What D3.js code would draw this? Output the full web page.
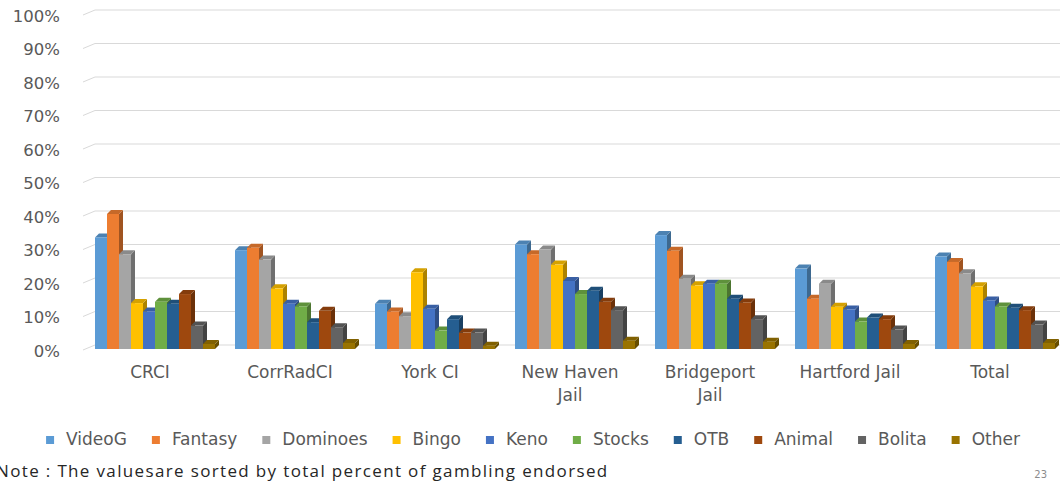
<!DOCTYPE html>
<meta charset="utf-8">
<head>
  <title>Gambling endorsed by facility</title>
</head>

<style>
body {
  margin: 0;
  background: #fff;
  font-family: "DejaVu Sans", sans-serif;
}
</style>

<body>
  <div id="content"></div>

  <script src="https://cdnjs.cloudflare.com/ajax/libs/d3/7.8.5/d3.min.js"></script>

  <script>
// DATA
var categories = ['CRCI', 'CorrRadCI', 'York CI', 'New Haven Jail', 'Bridgeport Jail', 'Hartford Jail', 'Total'];
var seriesNames = ['VideoG', 'Fantasy', 'Dominoes', 'Bingo', 'Keno', 'Stocks', 'OTB', 'Animal', 'Bolita', 'Other'];
var seriesColors = ['#5B9BD5', '#ED7D31', '#A5A5A5', '#FFC000', '#4472C4', '#70AD47', '#255E91', '#9E480E', '#636363', '#997300'];

var videoG   = [33.3, 29.5, 13.5, 31.2, 34.0, 24.0, 27.6];
var fantasy  = [40.3, 30.2, 11.2, 28.3, 29.3, 15.0, 26.0];
var dominoes = [28.3, 26.7,  9.8, 29.7, 21.0, 19.5, 22.6];
var bingo    = [13.7, 18.1, 22.9, 25.2, 19.0, 12.6, 18.7];
var keno     = [11.2, 13.5, 12.0, 20.3, 19.5, 11.8, 14.5];
var stocks   = [14.1, 12.7,  5.5, 16.4, 19.5,  8.2, 12.7];
var otb      = [13.5,  8.0,  8.9, 17.4, 15.0,  9.4, 12.3];
var animal   = [16.4, 11.4,  4.9, 14.1, 13.9,  8.9, 11.6];
var bolita   = [ 7.0,  6.5,  4.9, 11.6,  8.9,  5.8,  7.3];
var other    = [ 1.5,  1.8,  1.0,  2.5,  2.2,  1.5,  1.8];

var tickValues = [0, 10, 20, 30, 40, 50, 60, 70, 80, 90, 100];
var noteText = 'Note : The valuesare sorted by total percent of gambling endorsed';
var pageNumber = '23';

var seriesValues = [videoG, fantasy, dominoes, bingo, keno, stocks, otb, animal, bolita, other];

// SETUP
var width = 1063, height = 485;
var depthX = 4, depthY = 4;
var textColor = '#595959';
var gridColor = '#d9d9d9';

var svg = d3.select('#content').append('svg')
  .attr('width', width)
  .attr('height', height);

var y = d3.scaleLinear()
  .domain([0, 100])
  .range([345, 10]);

var x0 = d3.scaleBand()
  .domain(categories)
  .range([85, 1065])
  .paddingInner(1 / 7)
  .paddingOuter(0.5 / 7);

var x1 = d3.scaleBand()
  .domain(seriesNames)
  .range([0, x0.bandwidth()]);

// GRIDLINES (back wall + side wall diagonal)
var wallLeft = x0.range()[0] + 10;
svg.append('g')
  .selectAll('path')
  .data(tickValues)
  .join('path')
  .attr('d', function(d) {
    return 'M' + (wallLeft - 12) + ',' + (y(d) + 5) + 'L' + wallLeft + ',' + y(d) + 'H' + 1060;
  })
  .attr('fill', 'none')
  .attr('stroke', gridColor)
  .attr('stroke-width', 1);

// Y AXIS LABELS
var yAxis = svg.append('g')
  .attr('transform', 'translate(60,6)')
  .call(d3.axisLeft(y).tickValues(tickValues).tickFormat(function(d) { return d + '%'; }).tickSize(0).tickPadding(0));
yAxis.select('.domain').remove();
yAxis.selectAll('text')
  .attr('fill', textColor)
  .style('font-family', '"DejaVu Sans", sans-serif')
  .style('font-size', '16.5px');

// BARS
var bars = [];
categories.forEach(function(cat, ci) {
  seriesNames.forEach(function(s, si) {
    bars.push({ cat: cat, series: s, color: seriesColors[si], value: seriesValues[si][ci] });
  });
});

var floorY = y(0) + depthY;
var w = x1.bandwidth();

var barG = svg.append('g')
  .selectAll('g')
  .data(bars)
  .join('g');

barG.each(function(d) {
  var g = d3.select(this);
  var bx = x0(d.cat) + x1(d.series);
  var top = y(d.value) + depthY;
  var c = d3.color(d.color);

  g.append('path')
    .attr('d', 'M' + (bx + w) + ',' + top + 'L' + (bx + w + depthX) + ',' + (top - depthY) +
      'L' + (bx + w + depthX) + ',' + (floorY - depthY) + 'L' + (bx + w) + ',' + floorY + 'Z')
    .attr('fill', c.darker(1.1));

  g.append('path')
    .attr('d', 'M' + bx + ',' + top + 'L' + (bx + depthX) + ',' + (top - depthY) +
      'L' + (bx + w + depthX) + ',' + (top - depthY) + 'L' + (bx + w) + ',' + top + 'Z')
    .attr('fill', c.darker(0.5));

  g.append('rect')
    .attr('x', bx)
    .attr('y', top)
    .attr('width', w)
    .attr('height', floorY - top)
    .attr('fill', d.color);
});

// CATEGORY LABELS
var catLabels = svg.append('g')
  .selectAll('text')
  .data(categories)
  .join('text')
  .attr('x', function(d) { return x0(d) + x0.bandwidth() / 2 - 5; })
  .attr('y', 378)
  .attr('text-anchor', 'middle')
  .attr('fill', textColor)
  .style('font-size', '17px');

catLabels.each(function(d) {
  var t = d3.select(this);
  var xPos = t.attr('x');
  var words = d.split(' ');
  var line = [];
  var lines = [];
  var probe = t.append('tspan');
  words.forEach(function(word) {
    var test = line.concat([word]).join(' ');
    probe.text(test);
    if (probe.node().getComputedTextLength() > x0.bandwidth() && line.length) {
      lines.push(line.join(' '));
      line = [word];
    } else {
      line.push(word);
    }
  });
  lines.push(line.join(' '));
  probe.remove();
  lines.forEach(function(l, i) {
    t.append('tspan')
      .attr('x', xPos)
      .attr('dy', i === 0 ? 0 : 23)
      .text(l);
  });
});

// LEGEND
var legend = svg.append('g');
var legendItems = legend.selectAll('g')
  .data(seriesNames)
  .join('g');

legendItems.append('rect')
  .attr('width', 8)
  .attr('height', 8)
  .attr('y', -9)
  .attr('fill', function(d, i) { return seriesColors[i]; });

legendItems.append('text')
  .attr('x', 20)
  .attr('y', 0)
  .attr('fill', textColor)
  .style('font-size', '17px')
  .text(function(d) { return d; });

var legendGap = 25;
var xCursor = 0;
legendItems.each(function() {
  var g = d3.select(this);
  g.attr('transform', 'translate(' + xCursor + ',0)');
  xCursor += 20 + g.select('text').node().getComputedTextLength() + legendGap;
});
var legendWidth = xCursor - legendGap;
legend.attr('transform', 'translate(' + (533 - legendWidth / 2) + ',445)');

// NOTE + PAGE NUMBER
svg.append('text')
  .attr('x', -4)
  .attr('y', 477)
  .attr('fill', '#262626')
  .style('font-family', '"Open Sans", sans-serif')
  .style('font-size', '17px')
  .style('letter-spacing', '1.35px')
  .text(noteText);

svg.append('text')
  .attr('x', 1047)
  .attr('y', 478)
  .attr('text-anchor', 'end')
  .attr('fill', '#8c8c8c')
  .style('font-size', '10px')
  .text(pageNumber);
  </script>
</body>
</html>
